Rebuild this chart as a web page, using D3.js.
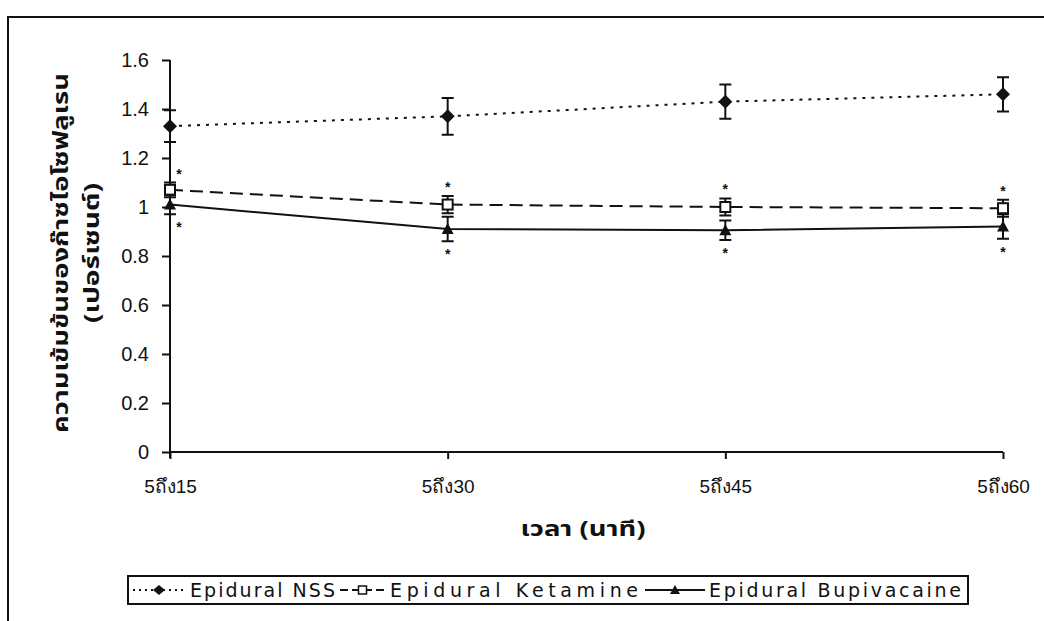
<!DOCTYPE html>
<html>
<head>
<meta charset="utf-8">
<script src="https://cdn.jsdelivr.net/npm/d3@7"></script>
<style>
  html, body { margin: 0; padding: 0; background: #fff; }
  svg { display: block; }
</style>
</head>
<body>
<script>
const categories = ["5ถึง15", "5ถึง30", "5ถึง45", "5ถึง60"];
const nssValues = [1.33, 1.37, 1.43, 1.46];
const nssErrors = [0.065, 0.075, 0.07, 0.07];
const ketValues = [1.07, 1.01, 1.0, 0.995];
const ketErrors = [0.03, 0.035, 0.035, 0.035];
const bupValues = [1.01, 0.91, 0.905, 0.92];
const bupErrors = [0.04, 0.05, 0.04, 0.05];
const yTicks = [0, 0.2, 0.4, 0.6, 0.8, 1, 1.2, 1.4, 1.6];
const seriesNames = ["Epidural NSS", "Epidural Ketamine", "Epidural Bupivacaine"];
const xTitle = "เวลา (นาที)";
const yTitle1 = "ความเข้มข้นของก๊าซไอโซฟลูเรน";
const yTitle2 = "(เปอร์เซนต์)";

const W = 1044, H = 621;
const INK = "#111";
const LATIN = "'Liberation Sans', Arial, sans-serif";
const THAI = "'Noto Sans Thai', 'Noto Sans', 'DejaVu Sans', sans-serif";
const svg = d3.select("body").append("svg").attr("width", W).attr("height", H);

// outer frame
svg.append("rect").attr("x", 8).attr("y", 17).attr("width", 1060).attr("height", 640)
  .attr("fill", "none").attr("stroke", INK).attr("stroke-width", 2);

const x = d3.scalePoint().domain(categories).range([170, 1003]);
const y = d3.scaleLinear().domain([0, 1.6]).range([452, 60]);

// y axis
const yAxis = svg.append("g").attr("transform", "translate(170,0)")
  .call(d3.axisLeft(y).tickValues(yTicks).tickSize(8).tickPadding(13).tickFormat(d => String(+d.toFixed(1))));
yAxis.select(".domain").attr("stroke", INK).attr("stroke-width", 2).attr("d", "M0,60V458");
yAxis.selectAll(".tick line").attr("stroke", INK).attr("stroke-width", 2);
yAxis.selectAll(".tick text").style("font-size", "20px").style("fill", INK).style("font-family", LATIN);

// x axis
const xAxis = svg.append("g").attr("transform", "translate(0,452)")
  .call(d3.axisBottom(x).tickSize(7).tickPadding(21));
xAxis.select(".domain").attr("stroke", INK).attr("stroke-width", 2).attr("d", "M170,0H1003");
xAxis.selectAll(".tick line").attr("stroke", INK).attr("stroke-width", 2);
xAxis.selectAll(".tick text").style("font-size", "19px").style("fill", INK).style("font-family", LATIN);

// titles
function title(t, fs, len) {
  return svg.append("text").attr("text-anchor", "middle")
    .style("font-family", THAI).style("font-size", fs + "px").style("font-weight", "bold").style("fill", INK)
    .attr("textLength", len).attr("lengthAdjust", "spacingAndGlyphs").text(t);
}
title(xTitle, 22, 125).attr("x", 583).attr("y", 536);
title(yTitle1, 22, 360).attr("transform", "translate(68,253) rotate(-90)");
title(yTitle2, 22, 140).attr("transform", "translate(99,253) rotate(-90)");

const series = [
  { name: seriesNames[0], vals: nssValues, errs: nssErrors, dash: "3,6", marker: "diamond" },
  { name: seriesNames[1], vals: ketValues, errs: ketErrors, dash: "13,7", marker: "square" },
  { name: seriesNames[2], vals: bupValues, errs: bupErrors, dash: null, marker: "triangle" }
];

function drawMarker(g, type, cx, cy) {
  if (type === "diamond") {
    g.append("path").attr("d", `M${cx},${cy-7}L${cx+7},${cy}L${cx},${cy+7}L${cx-7},${cy}Z`).attr("fill", INK);
  } else if (type === "square") {
    g.append("rect").attr("x", cx-5).attr("y", cy-5).attr("width", 10).attr("height", 10)
      .attr("fill", "#fff").attr("stroke", INK).attr("stroke-width", 2);
  } else {
    g.append("path").attr("d", `M${cx},${cy-6}L${cx+6},${cy+5}L${cx-6},${cy+5}Z`).attr("fill", INK);
  }
}

const line = d3.line().x((d, i) => x(categories[i])).y(d => y(d));
series.forEach(s => {
  const g = svg.append("g");
  g.append("path").attr("d", line(s.vals)).attr("fill", "none").attr("stroke", INK)
    .attr("stroke-width", 2).attr("stroke-dasharray", s.dash);
  s.vals.forEach((v, i) => {
    const cx = x(categories[i]);
    const top = y(v + s.errs[i]), bot = y(v - s.errs[i]);
    g.append("path").attr("d", `M${cx},${top}V${bot}M${cx-6},${top}H${cx+6}M${cx-6},${bot}H${cx+6}`)
      .attr("stroke", INK).attr("stroke-width", 2).attr("fill", "none");
    drawMarker(g, s.marker, cx, y(v));
  });
});

// significance asterisks
categories.forEach((c, i) => {
  const dx = i === 0 ? 9 : 0;
  svg.append("text").attr("x", x(c) + dx).attr("y", y(ketValues[i] + ketErrors[i]) - 4)
    .attr("text-anchor", "middle").style("font-family", LATIN).style("font-size", "14px").style("font-weight", "bold").style("fill", INK).text("*");
  svg.append("text").attr("x", x(c) + dx).attr("y", y(bupValues[i] - bupErrors[i]) + 18)
    .attr("text-anchor", "middle").style("font-family", LATIN).style("font-size", "14px").style("font-weight", "bold").style("fill", INK).text("*");
});

// legend
const lg = svg.append("g");
lg.append("rect").attr("x", 128).attr("y", 576).attr("width", 840).attr("height", 28)
  .attr("fill", "#fff").attr("stroke", INK).attr("stroke-width", 2);
const legendItems = [
  { s: series[0], x0: 133, x1: 185, tx: 190, tl: 145 },
  { s: series[1], x0: 340, x1: 385, tx: 390, tl: 248 },
  { s: series[2], x0: 645, x1: 705, tx: 709, tl: 252 }
];
legendItems.forEach(it => {
  const ly = 590;
  lg.append("line").attr("x1", it.x0).attr("x2", it.x1).attr("y1", ly).attr("y2", ly)
    .attr("stroke", INK).attr("stroke-width", 2).attr("stroke-dasharray", it.s.dash ? (it.s.marker === "square" ? "8,4" : "2,4") : null);
  const mg = lg.append("g");
  const cx = (it.x0 + it.x1) / 2;
  if (it.s.marker === "diamond") {
    mg.append("path").attr("d", `M${cx},${ly-5}L${cx+6},${ly}L${cx},${ly+5}L${cx-6},${ly}Z`).attr("fill", INK);
  } else if (it.s.marker === "square") {
    mg.append("rect").attr("x", cx-4).attr("y", ly-4).attr("width", 8).attr("height", 8)
      .attr("fill", "#fff").attr("stroke", INK).attr("stroke-width", 1.5);
  } else {
    mg.append("path").attr("d", `M${cx},${ly-5}L${cx+5},${ly+4}L${cx-5},${ly+4}Z`).attr("fill", INK);
  }
  lg.append("text").attr("x", it.tx).attr("y", ly + 7)
    .style("font-family", "'DejaVu Sans', sans-serif").style("font-size", "19px").style("fill", INK)
    .attr("textLength", it.tl).attr("lengthAdjust", "spacing").text(it.s.name);
});
</script>
</body>
</html>
